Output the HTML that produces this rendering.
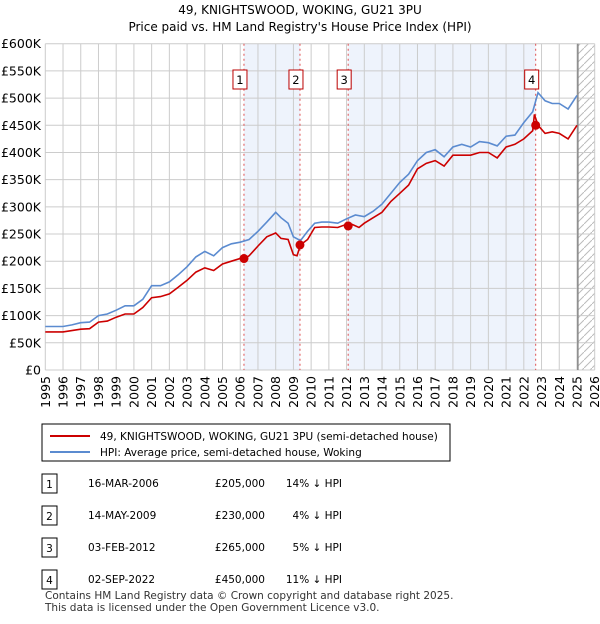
<!DOCTYPE html>
<html><head><meta charset="utf-8"><style>
body{margin:0;background:#fff;font-family:"DejaVu Sans",sans-serif;}
svg text{font-family:"DejaVu Sans",sans-serif;}
</style></head><body>
<svg width="600" height="620" viewBox="0 0 600 620" id="c">
<text x="300" y="14" text-anchor="middle" font-size="12">49, KNIGHTSWOOD, WOKING, GU21 3PU</text>
<text x="300" y="31" text-anchor="middle" font-size="12">Price paid vs. HM Land Registry's House Price Index (HPI)</text>
<g id="plot"></g>
<g>
<rect x="42" y="424" width="408" height="37" fill="#fff" stroke="#000" stroke-width="1"/>
<line x1="50" y1="436" x2="90" y2="436" stroke="#cc0000" stroke-width="2"/>
<text x="100" y="440" font-size="10.5">49, KNIGHTSWOOD, WOKING, GU21 3PU (semi-detached house)</text>
<line x1="50" y1="452" x2="90" y2="452" stroke="#5b8bd0" stroke-width="2"/>
<text x="100" y="456" font-size="10.5">HPI: Average price, semi-detached house, Woking</text>
</g>
<g id="tbl" font-size="10.5"></g>
<text x="45" y="599" font-size="10.5" fill="#333">Contains HM Land Registry data © Crown copyright and database right 2025.</text>
<text x="45" y="611" font-size="10.5" fill="#333">This data is licensed under the Open Government Licence v3.0.</text>
</svg>
<script>
const hpiYears=[1995,1995.5,1996,1996.5,1997,1997.5,1998,1998.5,1999,1999.5,2000,2000.5,2001,2001.5,2002,2002.5,2003,2003.5,2004,2004.5,2005,2005.5,2006,2006.5,2007,2007.5,2008,2008.3,2008.7,2009,2009.4,2009.8,2010.2,2010.6,2011,2011.5,2012,2012.5,2013,2013.5,2014,2014.5,2015,2015.5,2016,2016.5,2017,2017.5,2018,2018.5,2019,2019.5,2020,2020.5,2021,2021.5,2022,2022.5,2022.8,2023.2,2023.6,2024,2024.5,2025];
const hpiValues=[80,80,80,83,87,88,100,103,110,118,118,130,155,155,162,175,190,208,218,210,225,232,235,240,255,272,290,280,270,245,238,255,270,272,272,270,278,285,282,292,305,325,345,360,385,400,405,392,410,415,410,420,418,412,430,432,455,475,510,495,490,490,480,505];
const priceYears=[1995,1996,1997,1997.5,1998,1998.5,1999,1999.5,2000,2000.5,2001,2001.5,2002,2002.5,2003,2003.5,2004,2004.5,2005,2005.5,2006,2006.2,2006.5,2007,2007.5,2008,2008.3,2008.7,2009,2009.2,2009.4,2009.8,2010.2,2010.6,2011,2011.5,2012,2012.3,2012.7,2013,2013.5,2014,2014.5,2015,2015.5,2016,2016.5,2017,2017.5,2018,2018.5,2019,2019.5,2020,2020.5,2021,2021.5,2022,2022.5,2022.6,2022.8,2023.2,2023.6,2024,2024.5,2025];
const priceValues=[70,70,75,76,88,90,97,103,103,115,133,135,140,152,165,180,188,183,195,200,205,204,210,228,245,252,242,240,212,210,230,240,262,263,263,262,268,268,262,270,280,290,310,325,340,370,380,385,375,395,395,395,400,400,390,410,415,425,440,470,450,435,438,435,425,450];
const saleYears=[2006.21,2009.37,2012.09,2022.67];
const salePrices=[205,230,265,450];
const saleDates=["16-MAR-2006","14-MAY-2009","03-FEB-2012","02-SEP-2022"];
const salePriceLabels=["£205,000","£230,000","£265,000","£450,000"];
const saleDiffs=["14% ↓ HPI","4% ↓ HPI","5% ↓ HPI","11% ↓ HPI"];
const yTicks=[0,50,100,150,200,250,300,350,400,450,500,550,600];
const yTickLabels=["£0","£50K","£100K","£150K","£200K","£250K","£300K","£350K","£400K","£450K","£500K","£550K","£600K"];
const xTicks=[1995,1996,1997,1998,1999,2000,2001,2002,2003,2004,2005,2006,2007,2008,2009,2010,2011,2012,2013,2014,2015,2016,2017,2018,2019,2020,2021,2022,2023,2024,2025,2026];
const dataEnd=2025.05;

const X0=45.3,X1=594.7,Y0=370,Y1=43.7;
const xs=y=>X0+(y-1995)/31*(X1-X0);
const ys=v=>Y0-v/600*(Y0-Y1);
const NS="http://www.w3.org/2000/svg";
const plot=document.getElementById('plot');
function mk(tag,attrs,parent){const e=document.createElementNS(NS,tag);for(const k in attrs)e.setAttribute(k,attrs[k]);(parent||plot).appendChild(e);return e;}
for(const [a,b] of [[0,1],[2,3]]){
 const r=mk('rect',{x:xs(saleYears[a]),y:Y1,width:xs(saleYears[b])-xs(saleYears[a]),height:Y0-Y1,fill:'#eef3fc'});
 
 
}
const defs=mk('defs',{});
const pat=mk('pattern',{id:'h',width:8,height:8,patternUnits:'userSpaceOnUse'},defs);
mk('path',{d:'M0,8 L8,0',stroke:'#bbb','stroke-width':1},pat);
const hr=mk('rect',{x:xs(dataEnd),y:Y1,width:X1-xs(dataEnd),height:Y0-Y1,fill:'url(#h)'});


yTicks.forEach((t,i)=>{
 const l=mk('line',{x1:X0,x2:X1,y1:ys(t),y2:ys(t),stroke:'#ccc','stroke-width':1});
 
 
 const tx=mk('text',{x:41,y:ys(t)+4.5,'text-anchor':'end','font-size':12.5});
 tx.textContent=yTickLabels[i];
 
 
});
xTicks.forEach(t=>{
 const l=mk('line',{x1:xs(t),x2:xs(t),y1:Y1,y2:Y0,stroke:'#ccc','stroke-width':1});
 
 
 const tx=mk('text',{x:0,y:0,'text-anchor':'end','font-size':12.5,transform:`translate(${xs(t)+4.5},376) rotate(-90)`});
 tx.textContent=t;
 
 
});
const el=mk('line',{x1:xs(dataEnd),x2:xs(dataEnd),y1:Y1,y2:Y0,stroke:'#888','stroke-width':1.5});


saleYears.forEach((y,i)=>{
 const l=mk('line',{x1:xs(y),x2:xs(y),y1:Y1,y2:Y0,stroke:'#e05050','stroke-width':1,'stroke-dasharray':'2,3'});
 
 
 const g=mk('g',{});
 
 
 mk('rect',{x:xs(y)-11,y:70,width:14,height:19,fill:'#fff',stroke:'#b00','stroke-width':1},g);
 const t=mk('text',{x:xs(y)-4,y:84,'text-anchor':'middle','font-size':11.5},g);
 t.textContent=i+1;
});
function line(xa,va,color,name){
 const d=xa.map((x,i)=>(i?'L':'M')+xs(x).toFixed(1)+','+ys(va[i]).toFixed(1)).join('');
 const p=mk('path',{d,fill:'none',stroke:color,'stroke-width':1.6});
 
 
}
line(hpiYears,hpiValues,'#5b8bd0','hpi-line');
line(priceYears,priceValues,'#cc0000','price-line');
saleYears.forEach((y,i)=>{
 const c=mk('circle',{cx:xs(y),cy:ys(salePrices[i]),r:4.5,fill:'#cc0000'});
 
 
});
const tbl=document.getElementById('tbl');
saleDates.forEach((d,i)=>{
 const y=487+i*32;
 const g=mk('g',{},tbl);
 
 
 mk('rect',{x:42,y:y-13,width:15,height:19,fill:'#fff',stroke:'#000','stroke-width':1},g);
 let t=mk('text',{x:49.5,y:y+1,'text-anchor':'middle'},g);t.textContent=i+1;
 t=mk('text',{x:88,y:y},g);t.textContent=d;
 t=mk('text',{x:265,y:y,'text-anchor':'end'},g);t.textContent=salePriceLabels[i];
 t=mk('text',{x:342,y:y,'text-anchor':'end'},g);t.textContent=saleDiffs[i];
});
</script>
</body></html>
